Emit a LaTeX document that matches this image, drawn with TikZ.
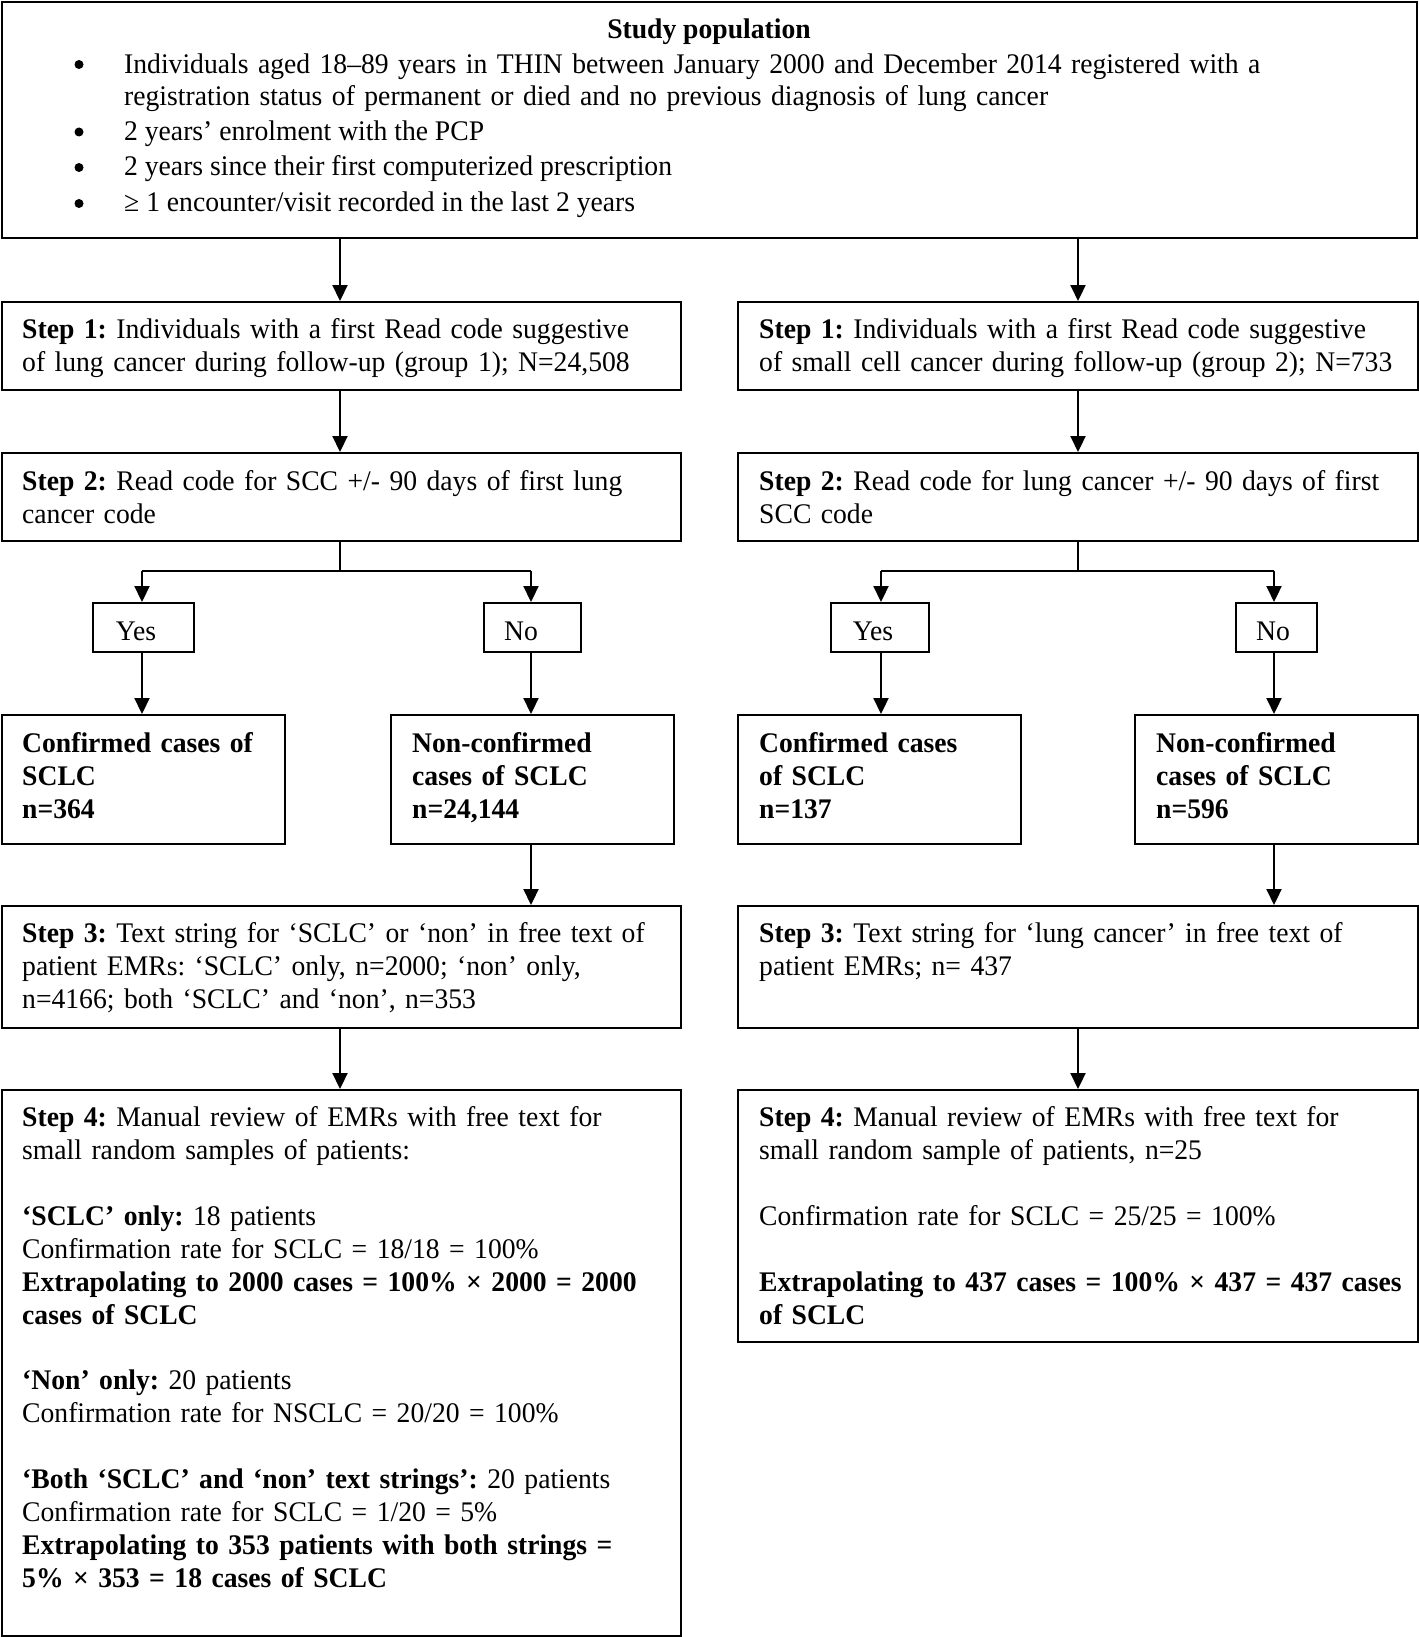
\documentclass[tikz,border=0pt]{standalone}
\usepackage{fontspec}
\setmainfont{Liberation Serif}[FakeStretch=0.973]
\usetikzlibrary{arrows.meta}
\newcommand{\bsk}{32.9pt}
\newcommand{\fs}{\fontsize{28.4}{32.9}\selectfont\frenchspacing}
\begin{document}
\begin{tikzpicture}[x=1pt,y=-1pt,
  box/.style={draw, line width=2.2pt, rectangle, inner sep=0pt, anchor=north west},
  ynbox/.style={draw, line width=2pt, rectangle, inner sep=0pt, anchor=north west},
  txt/.style={anchor=north west, inner sep=0pt, align=left, text width=760pt, font=\fs},
  one/.style={anchor=base west, inner sep=0pt, font=\fs},
  ctr/.style={anchor=base, inner sep=0pt, font=\fs},
  dot/.style={circle, fill, inner sep=0pt, minimum size=9pt},
  arr/.style={line width=2.2pt, -{Triangle[length=16pt,width=15pt]}},
  stem/.style={line width=1.3pt},
  hline/.style={line width=2.2pt}
]
\useasboundingbox (0,0) rectangle (1418,1637);

% ---------- boxes ----------
\node[box, minimum width=1415pt, minimum height=236pt] (top) at (1.2,1.2) {};
\node[box, minimum width=679pt, minimum height=88pt] (s1L) at (1.2,301) {};
\node[box, minimum width=680pt, minimum height=88pt] (s1R) at (737,301) {};
\node[box, minimum width=679pt, minimum height=88pt] (s2L) at (1.2,452) {};
\node[box, minimum width=680pt, minimum height=88pt] (s2R) at (737,452) {};
\node[ynbox, minimum width=101pt, minimum height=49pt] (yesL) at (92,602) {};
\node[ynbox, minimum width=97pt, minimum height=49pt] (noL) at (483,602) {};
\node[ynbox, minimum width=98pt, minimum height=49pt] (yesR) at (830,602) {};
\node[ynbox, minimum width=81pt, minimum height=49pt] (noR) at (1235,602) {};
\node[box, minimum width=283pt, minimum height=129pt] (cL) at (1.2,714) {};
\node[box, minimum width=283pt, minimum height=129pt] (ncL) at (390,714) {};
\node[box, minimum width=283pt, minimum height=129pt] (cR) at (737,714) {};
\node[box, minimum width=283pt, minimum height=129pt] (ncR) at (1134,714) {};
\node[box, minimum width=679pt, minimum height=122pt] (s3L) at (1.2,905) {};
\node[box, minimum width=680pt, minimum height=122pt] (s3R) at (737,905) {};
\node[box, minimum width=679pt, minimum height=546pt] (s4L) at (1.2,1089) {};
\node[box, minimum width=680pt, minimum height=252pt] (s4R) at (737,1089) {};

% ---------- column coordinates ----------
\coordinate (xL) at (340,0);
\coordinate (xR) at (1078,0);
\coordinate (xYL) at (142,0);
\coordinate (xNL) at (531,0);
\coordinate (xYR) at (881,0);
\coordinate (xNR) at (1274,0);
\coordinate (brL) at (340,571);
\coordinate (brR) at (1078,571);

% ---------- connectors ----------
\draw[arr] (top.south -| xL) -- (s1L.north -| xL);
\draw[arr] (top.south -| xR) -- (s1R.north -| xR);
\draw[arr] (s1L.south -| xL) -- (s2L.north -| xL);
\draw[arr] (s1R.south -| xR) -- (s2R.north -| xR);
\draw[stem] (s2L.south -| xL) -- (brL);
\draw[stem] (s2R.south -| xR) -- (brR);
\draw[hline] (brL -| xYL) -- (brL -| xNL);
\draw[hline] (brR -| xYR) -- (brR -| xNR);
\draw[arr] (brL -| xYL) -- (yesL.north -| xYL);
\draw[arr] (brL -| xNL) -- (noL.north -| xNL);
\draw[arr] (brR -| xYR) -- (yesR.north -| xYR);
\draw[arr] (brR -| xNR) -- (noR.north -| xNR);
\draw[arr] (yesL.south -| xYL) -- (cL.north -| xYL);
\draw[arr] (noL.south -| xNL) -- (ncL.north -| xNL);
\draw[arr] (yesR.south -| xYR) -- (cR.north -| xYR);
\draw[arr] (noR.south -| xNR) -- (ncR.north -| xNR);
\draw[arr] (ncL.south -| xNL) -- (s3L.north -| xNL);
\draw[arr] (ncR.south -| xNR) -- (s3R.north -| xNR);
\draw[arr] (s3L.south -| xL) -- (s4L.north -| xL);
\draw[arr] (s3R.south -| xR) -- (s4R.north -| xR);

% ---------- texts: top ----------
\node[ctr, font=\fs\bfseries] (title) at (709,39) {Study population};
\node[dot] (b1) at (79,64.5) {};
\node[dot] (b2) at (79,132) {};
\node[dot] (b3) at (79,167.5) {};
\node[dot] (b4) at (79,203.5) {};
\node[txt, text width=1280pt, font=\fontsize{28.4}{32.4}\selectfont\frenchspacing] (t1) at (124,50.3) {\strut Individuals aged 18–89 years in THIN between January 2000 and December 2014 registered with a\\ registration status of permanent or died and no previous diagnosis of lung cancer};
\node[one] (t2) at (124,140.5) {2 years’ enrolment with the PCP};
\node[one] (t3) at (124,176) {2 years since their first computerized prescription};
\node[one] (t4) at (124,212) {≥ 1 encounter/visit recorded in the last 2 years};

% ---------- step 1 & 2 ----------
\node[txt] (ts1L) at (22,315.3) {\strut\textbf{Step 1:} Individuals with a first Read code suggestive\\ of lung cancer during follow-up (group 1); N=24,508};
\node[txt] (ts1R) at (759,315.3) {\strut\textbf{Step 1:} Individuals with a first Read code suggestive\\ of small cell cancer during follow-up (group 2); N=733};
\node[txt] (ts2L) at (22,467) {\strut\textbf{Step 2:} Read code for SCC +/- 90 days of first lung\\ cancer code};
\node[txt] (ts2R) at (759,467) {\strut\textbf{Step 2:} Read code for lung cancer +/- 90 days of first\\ SCC code};

% ---------- yes / no ----------
\node[ctr] (tyL) at (136,640) {Yes};
\node[ctr] (tnL) at (521,640) {No};
\node[ctr] (tyR) at (873,640) {Yes};
\node[ctr] (tnR) at (1273,640) {No};

% ---------- confirmed / non-confirmed ----------
\node[txt, font=\fs\bfseries] (tcL) at (22,729) {\strut Confirmed cases of\\ SCLC\\ n=364};
\node[txt, font=\fs\bfseries] (tncL) at (412,729) {\strut Non-confirmed\\ cases of SCLC\\ n=24,144};
\node[txt, font=\fs\bfseries] (tcR) at (759,729) {\strut Confirmed cases\\ of SCLC\\ n=137};
\node[txt, font=\fs\bfseries] (tncR) at (1156,729) {\strut Non-confirmed\\ cases of SCLC\\ n=596};

% ---------- step 3 ----------
\node[txt] (ts3L) at (22,919.5) {\strut\textbf{Step 3:} Text string for ‘SCLC’ or ‘non’ in free text of\\ patient EMRs: ‘SCLC’ only, n=2000; ‘non’ only,\\ n=4166; both ‘SCLC’ and ‘non’, n=353};
\node[txt] (ts3R) at (759,919.5) {\strut\textbf{Step 3:} Text string for ‘lung cancer’ in free text of\\ patient EMRs; n= 437};

% ---------- step 4 ----------
\node[txt] (ts4L) at (22,1103.5) {\strut\textbf{Step 4:} Manual review of EMRs with free text for\\ small random samples of patients:\\[\bsk]
\textbf{‘SCLC’ only:} 18 patients\\
Confirmation rate for SCLC = 18/18 = 100\%\\
\textbf{Extrapolating to 2000 cases = 100\% × 2000 = 2000}\\
\textbf{cases of SCLC}\\[\bsk]
\textbf{‘Non’ only:} 20 patients\\
Confirmation rate for NSCLC = 20/20 = 100\%\\[\bsk]
\textbf{‘Both ‘SCLC’ and ‘non’ text strings’:} 20 patients\\
Confirmation rate for SCLC = 1/20 = 5\%\\
\textbf{Extrapolating to 353 patients with both strings =}\\
\textbf{5\% × 353 = 18 cases of SCLC}};
\node[txt] (ts4R) at (759,1103.5) {\strut\textbf{Step 4:} Manual review of EMRs with free text for\\ small random sample of patients, n=25\\[\bsk]
Confirmation rate for SCLC = 25/25 = 100\%\\[\bsk]
\textbf{Extrapolating to 437 cases = 100\% × 437 = 437 cases}\\
\textbf{of SCLC}};
\end{tikzpicture}
\end{document}
